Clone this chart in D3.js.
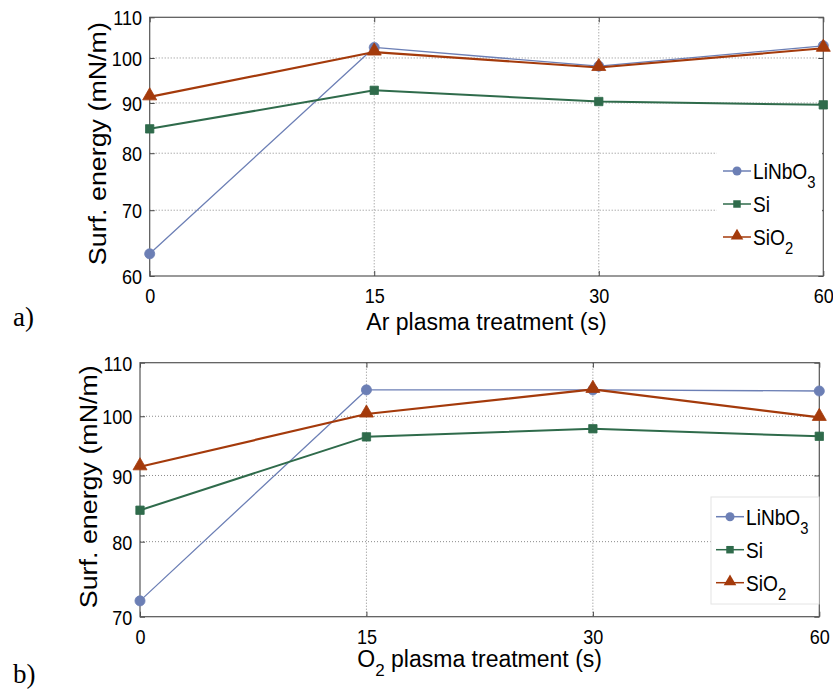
<!DOCTYPE html>
<html>
<head>
<meta charset="utf-8">
<script src="https://cdn.jsdelivr.net/npm/d3@7"></script>
<style>
  body { margin: 0; background: #fff; }
  svg text { font-family: "Liberation Sans", Arial, sans-serif; }
</style>
</head>
<body>
<div id="chart"></div>
<script>
// treatment times (s), equally spaced categories
var times = ["0", "15", "30", "60"];

// a) Ar plasma
var arLiNbO3 = [63.2, 102.5, 98.1, 102.9];
var arSi     = [84.7, 92.7, 90.3, 89.6];
var arSiO2   = [91.3, 101.4, 97.8, 102.3];

// b) O2 plasma
var o2LiNbO3 = [72.0, 104.8, 104.8, 104.6];
var o2Si     = [84.6, 96.4, 97.8, 96.5];
var o2SiO2   = [91.4, 100.4, 104.9, 99.8];

var yTicksA = [60, 70, 80, 90, 100, 110];
var yTicksB = [70, 80, 90, 100, 110];

var seriesNames = ["LiNbO", "Si", "SiO"];
var seriesSubs = ["3", "", "2"];
var colors = ["#6c7fb5", "#2f6b4b", "#a43a0b"];
var widths = [1.3, 2, 2.2];
var shapes = [d3.symbolCircle, d3.symbolSquare, d3.symbolTriangle];
var sizes = [80, 70, 85];

var svg = d3.select("#chart").append("svg")
    .attr("width", 833)
    .attr("height", 690);

function panel(cfg) {
    var x = d3.scalePoint().domain(times).range([cfg.left, cfg.right]);
    var y = d3.scaleLog().domain(cfg.domain).range([cfg.bottom, cfg.top]);
    var g = svg.append("g");

    // grid
    g.append("g").selectAll("line.gy")
        .data(cfg.ticks.slice(1, -1))
        .enter().append("line")
        .attr("x1", cfg.left).attr("x2", cfg.right)
        .attr("y1", function (d) { return y(d); })
        .attr("y2", function (d) { return y(d); })
        .attr("stroke", "#8a8a8a")
        .attr("stroke-width", 1)
        .attr("stroke-dasharray", "1,2");
    g.append("g").selectAll("line.gx")
        .data(times.slice(1, -1))
        .enter().append("line")
        .attr("y1", cfg.top).attr("y2", cfg.bottom)
        .attr("x1", function (d) { return x(d); })
        .attr("x2", function (d) { return x(d); })
        .attr("stroke", "#8a8a8a")
        .attr("stroke-width", 1)
        .attr("stroke-dasharray", "1,2");

    // axes (ticks inward, MATLAB style)
    var yl = g.append("g")
        .attr("transform", "translate(" + cfg.left + ",0)")
        .call(d3.axisLeft(y).tickValues(cfg.ticks).tickFormat(d3.format("d")).tickSize(-5).tickPadding(9));
    yl.select(".domain").remove();
    yl.selectAll("text").style("font-size", "21px").attr("fill", "#000").attr("dy", "0.36em")
        .attr("transform", "scale(0.86,1)");
    yl.selectAll("line").attr("stroke", "#444");

    var yr = g.append("g")
        .attr("transform", "translate(" + cfg.right + ",0)")
        .call(d3.axisRight(y).tickValues(cfg.ticks).tickFormat("").tickSize(-5));
    yr.select(".domain").remove();
    yr.selectAll("line").attr("stroke", "#444");

    var xb = g.append("g")
        .attr("transform", "translate(0," + cfg.bottom + ")")
        .call(d3.axisBottom(x).tickSize(-5).tickPadding(12));
    xb.select(".domain").remove();
    xb.selectAll("text").style("font-size", "21px").attr("fill", "#000").attr("dy", "0.71em")
        .attr("transform", "scale(0.86,1)");
    xb.selectAll("line").attr("stroke", "#444");

    var xt = g.append("g")
        .attr("transform", "translate(0," + cfg.top + ")")
        .call(d3.axisTop(x).tickFormat("").tickSize(-5));
    xt.select(".domain").remove();
    xt.selectAll("line").attr("stroke", "#444");

    // box
    g.append("rect")
        .attr("x", cfg.left).attr("y", cfg.top)
        .attr("width", cfg.right - cfg.left)
        .attr("height", cfg.bottom - cfg.top)
        .attr("fill", "none")
        .attr("stroke", "#555")
        .attr("stroke-width", 1.2);

    // legend box (under data, over grid)
    g.append("rect")
        .attr("x", cfg.leg.x).attr("y", cfg.leg.y)
        .attr("width", cfg.leg.w).attr("height", cfg.leg.h)
        .attr("fill", "#fff")
        .attr("stroke", cfg.leg.stroke)
        .attr("stroke-width", 1);

    // lines and markers
    var line = d3.line()
        .x(function (d, i) { return x(times[i]); })
        .y(function (d) { return y(d); });

    cfg.series.forEach(function (vals, k) {
        g.append("path")
            .datum(vals)
            .attr("d", line)
            .attr("fill", "none")
            .attr("stroke", colors[k])
            .attr("stroke-width", widths[k])
            .attr("stroke-linejoin", "round");
        g.selectAll(null)
            .data(vals)
            .enter().append("path")
            .attr("d", d3.symbol().type(shapes[k]).size(sizes[k]))
            .attr("transform", function (d, i) {
                return "translate(" + x(times[i]) + "," + (y(d) + (k == 2 ? -1 : 0)) + ")";
            })
            .attr("fill", colors[k])
            .attr("stroke", colors[k])
            .attr("stroke-width", 0.8);
    });

    // legend entries
    seriesNames.forEach(function (name, k) {
        var ly = cfg.leg.y0 + k * cfg.leg.dy;
        g.append("line")
            .attr("x1", cfg.leg.lx).attr("x2", cfg.leg.lx + 28)
            .attr("y1", ly).attr("y2", ly)
            .attr("stroke", colors[k])
            .attr("stroke-width", 1.5);
        g.append("path")
            .attr("d", d3.symbol().type(shapes[k]).size(sizes[k] * 0.8))
            .attr("transform", "translate(" + (cfg.leg.lx + 14) + "," + (ly + (k == 2 ? -1 : 0)) + ")")
            .attr("fill", colors[k]);
        var t = g.append("text")
            .attr("transform", "translate(" + (cfg.leg.lx + 30) + "," + (ly + 8) + ") scale(0.87,1)")
            .style("font-size", "22px")
            .text(name);
        if (seriesSubs[k]) {
            t.append("tspan")
                .attr("dy", 9)
                .style("font-size", "17px")
                .text(seriesSubs[k]);
        }
    });

    // axis titles
    var xl = g.append("text")
        .attr("x", (cfg.left + cfg.right) / 2)
        .attr("y", cfg.xlabY)
        .attr("text-anchor", "middle")
        .style("font-size", "23px");
    xl.append("tspan").text(cfg.xlab[0]);
    if (cfg.xlab[1]) {
        xl.append("tspan").attr("dy", 9).style("font-size", "17px").text(cfg.xlab[1]);
        xl.append("tspan").attr("dy", -9).text(cfg.xlab[2]);
    }

    g.append("text")
        .attr("transform", "translate(" + cfg.ylabX + "," + ((cfg.top + cfg.bottom) / 2 - 3) + ") rotate(-90)")
        .attr("text-anchor", "middle")
        .attr("textLength", 243)
        .attr("lengthAdjust", "spacingAndGlyphs")
        .style("font-size", "23px")
        .text("Surf. energy (mN/m)");

    g.append("text")
        .attr("x", 13)
        .attr("y", cfg.tagY)
        .style("font-family", "'Liberation Serif', 'Times New Roman', serif")
        .style("font-size", "27px")
        .text(cfg.tag);
}

panel({
    left: 149.7, right: 823.3, top: 17.3, bottom: 276,
    domain: [60, 110], ticks: yTicksA,
    series: [arLiNbO3, arSi, arSiO2],
    leg: { x: 716.5, y: 142, w: 105.5, h: 132, stroke: "none", lx: 723, y0: 171, dy: 33 },
    xlab: ["Ar plasma treatment (s)"], xlabY: 330,
    ylabX: 106, tag: "a)", tagY: 326
});

panel({
    left: 140, right: 819.3, top: 362.7, bottom: 616.7,
    domain: [70, 110], ticks: yTicksB,
    series: [o2LiNbO3, o2Si, o2SiO2],
    leg: { x: 711, y: 497, w: 108, h: 107, stroke: "#e4e4e4", lx: 716, y0: 516.7, dy: 33 },
    xlab: ["O", "2", " plasma treatment (s)"], xlabY: 667,
    ylabX: 97, tag: "b)", tagY: 683
});
</script>
</body>
</html>
